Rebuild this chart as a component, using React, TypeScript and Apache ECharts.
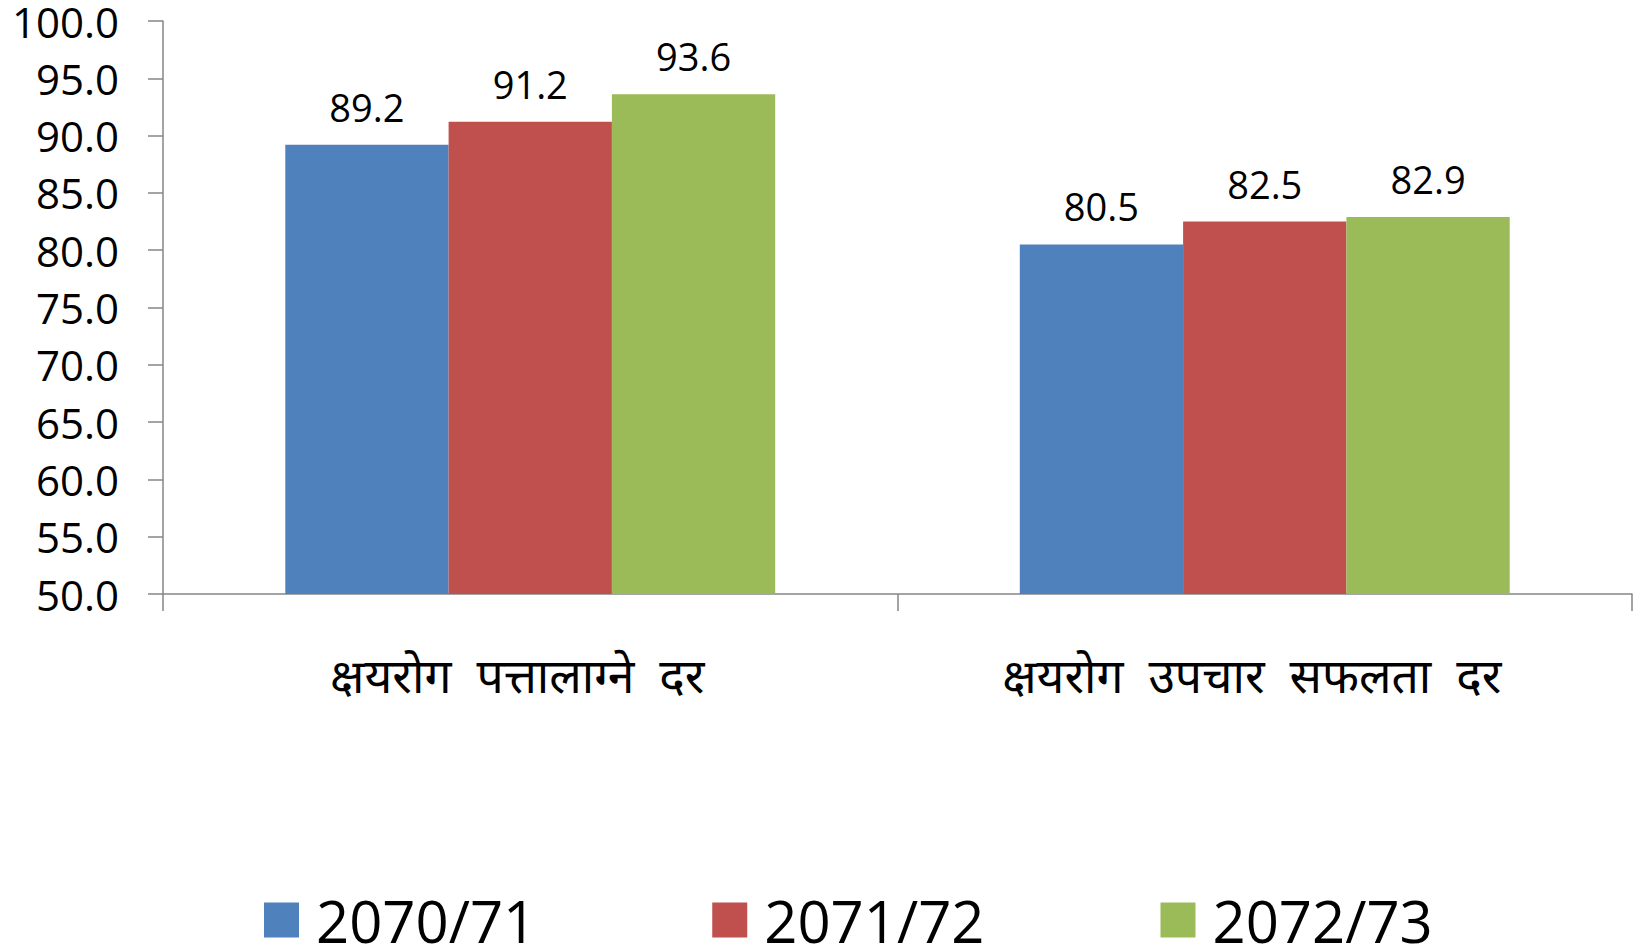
import React, { useEffect, useRef } from "react";
import * as echarts from "echarts";

const categories = ["क्षयरोग पत्तालाग्ने दर", "क्षयरोग उपचार सफलता दर"];
const seriesNames = ["2070/71", "2071/72", "2072/73"];
const values2070 = [89.2, 80.5];
const values2071 = [91.2, 82.5];
const values2072 = [93.6, 82.9];
const colors = ["#4F81BD", "#C0504D", "#9BBB59"];

export default function App() {
  const ref = useRef<HTMLDivElement>(null);
  useEffect(() => {
    if (!ref.current) return;
    const chart = echarts.init(ref.current, undefined, { renderer: "svg" });
    const font = "'Open Sans', 'Noto Sans', sans-serif";
    const data = [values2070, values2071, values2072];
    chart.setOption({
      animation: false,
      backgroundColor: "#ffffff",
      grid: { left: 163, right: 8, top: 19, bottom: 350, containLabel: false },
      legend: {
        left: 259,
        top: 886,
        itemWidth: 35,
        itemHeight: 35,
        itemGap: 176,
        icon: "rect",
        textStyle: { fontFamily: font, fontSize: 58, lineHeight: 58, color: "#000", padding: [0, 0, 0, 12] },
        data: seriesNames,
      },
      xAxis: {
        type: "category",
        data: categories,
        axisLine: { show: true, lineStyle: { color: "#868686", width: 1.5 } },
        axisTick: { show: true, alignWithLabel: false, length: 17, lineStyle: { color: "#868686", width: 1.5 } },
        axisLabel: {
          fontFamily: font,
          fontSize: 48,
          color: "#000",
          margin: 56,
          padding: [0, 26, 0, 0],
          formatter: (v: string) => v.split(" ").join("  "),
        },
      },
      yAxis: {
        type: "value",
        min: 50,
        max: 100,
        interval: 5,
        axisLine: { show: true, lineStyle: { color: "#868686", width: 1.5 } },
        axisTick: { show: true, inside: false, length: 15, lineStyle: { color: "#868686", width: 1.5 } },
        splitLine: { show: false },
        axisLabel: {
          fontFamily: font,
          fontSize: 42,
          lineHeight: 40,
          color: "#000",
          margin: 44,
          formatter: (v: number) => v.toFixed(1),
        },
      },
      series: seriesNames.map((name, i) => ({
        name,
        type: "bar",
        data: data[i],
        barGap: "0%",
        barCategoryGap: "33.3%",
        itemStyle: { color: colors[i] },
        label: {
          show: true,
          position: "top",
          distance: 19,
          fontFamily: font,
          fontSize: 38,
          color: "#000",
          formatter: (p: any) => p.value.toFixed(1),
        },
      })),
    });
    return () => chart.dispose();
  }, []);
  return (
    <div
      ref={ref}
      style={{ position: "fixed", left: 0, top: 0, width: 1640, height: 944, background: "#fff" }}
    />
  );
}
